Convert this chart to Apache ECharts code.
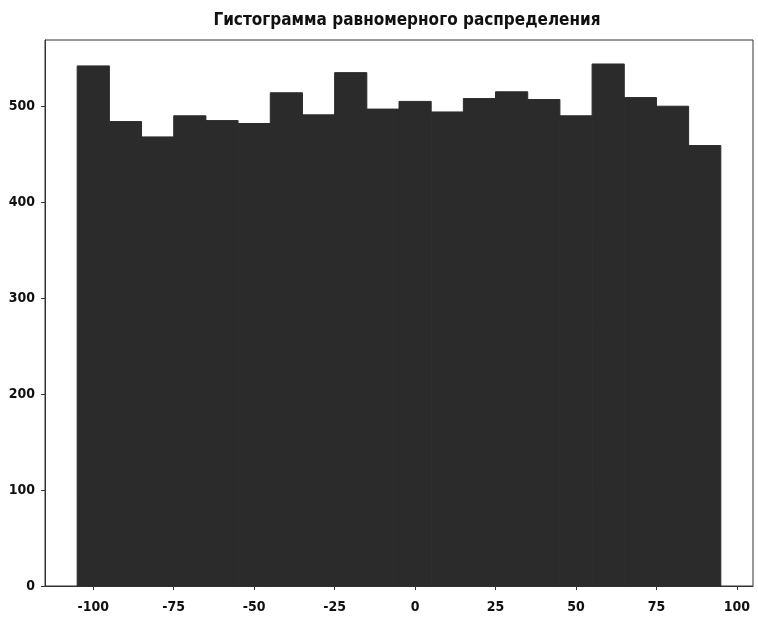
<!DOCTYPE html>
<html>
<head>
<meta charset="utf-8">
<script src="https://cdn.jsdelivr.net/npm/echarts@6/dist/echarts.min.js"></script>
<style>
  html, body { margin: 0; padding: 0; background: #fff; }
  #chart { width: 758px; height: 617px; }
</style>
</head>
<body>
<div id="chart"></div>
<script>
// Histogram of a uniform sample: 20 bins of width 10 from -105 to 95
const binEdges = [-105, -95, -85, -75, -65, -55, -45, -35, -25, -15, -5, 5, 15, 25, 35, 45, 55, 65, 75, 85, 95];
const counts = [542, 484, 468, 490, 485, 482, 514, 491, 535, 497, 505, 494, 508, 515, 507, 490, 544, 509, 500, 459];
const xTicks = [-100, -75, -50, -25, 0, 25, 50, 75, 100];
const yTicks = [0, 100, 200, 300, 400, 500];
const titleText = 'Гистограмма равномерного распределения';

const bins = counts.map((c, i) => [binEdges[i], binEdges[i + 1], c]);

const font = "'Liberation Sans Narrow', 'DejaVu Sans Condensed', 'Roboto Condensed', sans-serif";
const barColor = '#2b2b2b';

const chart = echarts.init(document.getElementById('chart'), null, { renderer: 'canvas' });
chart.setOption({
  animation: false,
  backgroundColor: '#ffffff',
  title: {
    text: titleText,
    left: 402,
    textAlign: 'center',
    top: 7,
    textStyle: { fontFamily: font, fontWeight: 'bold', fontSize: 17, color: '#111' }
  },
  grid: {
    left: 45, right: 5, top: 40, bottom: 31,
    show: true, borderColor: '#333', borderWidth: 1, backgroundColor: 'transparent'
  },
  xAxis: {
    type: 'value',
    min: -115, max: 105,
    splitLine: { show: false },
    axisLine: { onZero: false, lineStyle: { color: '#333', width: 1 } },
    axisTick: { show: true, length: 4, customValues: xTicks, lineStyle: { color: '#333' } },
    axisLabel: {
      customValues: xTicks, margin: 14,
      fontFamily: font, fontWeight: 'bold', fontSize: 14, color: '#111'
    }
  },
  yAxis: {
    type: 'value',
    min: 0, max: 569,
    splitLine: { show: false },
    axisLine: { show: true, onZero: false, lineStyle: { color: '#333', width: 1 } },
    axisTick: { show: true, length: 4, customValues: yTicks, lineStyle: { color: '#333' } },
    axisLabel: {
      customValues: yTicks, margin: 10,
      fontFamily: font, fontWeight: 'bold', fontSize: 14, color: '#111'
    }
  },
  series: [{
    type: 'custom',
    data: bins,
    encode: { x: [0, 1], y: 2 },
    renderItem: function (params, api) {
      const p0 = api.coord([api.value(0), api.value(2)]);
      const p1 = api.coord([api.value(1), 0]);
      return {
        type: 'rect',
        shape: { x: p0[0], y: p0[1], width: p1[0] - p0[0], height: p1[1] - p0[1] },
        style: { fill: barColor, stroke: barColor, lineWidth: 1 }
      };
    }
  }]
});
</script>
</body>
</html>
